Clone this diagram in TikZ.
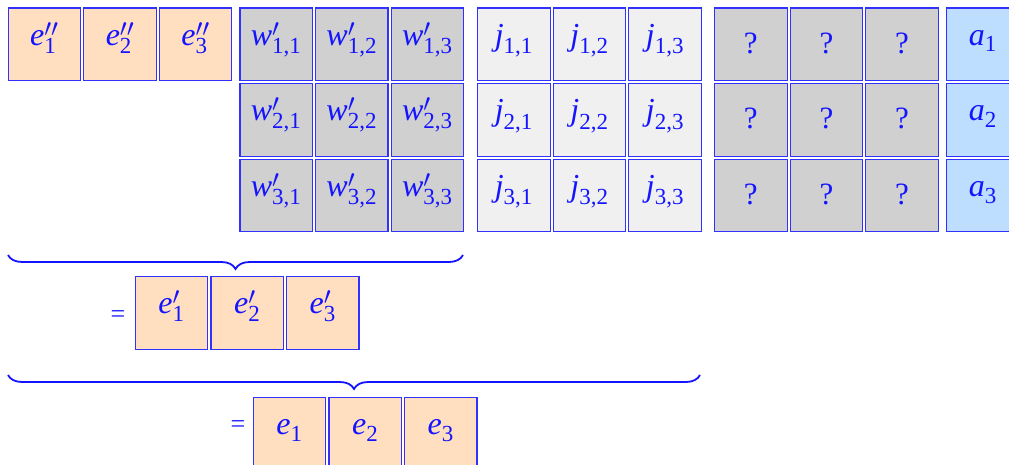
\documentclass[tikz,border=0pt]{standalone}
\usepackage{fontspec}
\setmainfont{Liberation Serif}
\DeclareMathSizes{32}{32}{23}{17}
\usetikzlibrary{decorations.pathreplacing}
\definecolor{peach}{RGB}{255,223,192}
\definecolor{midgray}{RGB}{208,208,208}
\definecolor{lightgray}{RGB}{240,240,240}
\definecolor{lightblue}{RGB}{190,222,255}
\definecolor{txtblue}{RGB}{20,20,255}
\definecolor{edgeblue}{RGB}{50,50,255}
\newcommand{\sbx}[1]{\hbox{\fontsize{23}{25}\selectfont\upshape #1}}
\tikzset{
  cellbox/.style={draw=edgeblue, line width=1.2pt, minimum width=72.5pt, minimum height=72.5pt,
    anchor=north west, inner sep=0pt, text=txtblue, text height=13pt, text depth=11pt,
    font=\fontsize{32}{36}\selectfont},
  ecell/.style={cellbox, fill=peach},
  wcell/.style={cellbox, fill=midgray},
  jcell/.style={cellbox, fill=lightgray},
  acell/.style={cellbox, fill=lightblue},
  qcell/.style={cellbox, fill=midgray, text height=20pt, text depth=2pt,
    font=\fontsize{31}{34}\selectfont},
  eqsign/.style={text=txtblue, font=\fontsize{26}{28}\selectfont, inner sep=0pt},
  bracestyle/.style={draw=txtblue, line width=1.8pt, decorate,
    decoration={brace, mirror, amplitude=14pt}},
}
\begin{document}
\begin{tikzpicture}[x=1pt, y=-1pt]
\path[use as bounding box] (0,0) rectangle (1009,465);
\clip (0,0) rectangle (1009,465);
\def\p{75.6}
% e'' row
\foreach \k in {1,2,3}{
  \node[ecell] (epp\k) at ({7.5+(\k-1)*\p},7.5) {$\textit{e}''_{\sbx{\k}}$};
}
% W matrix, J matrix, ? matrix, a column
\foreach \r in {1,2,3}{
  \foreach \c in {1,2,3}{
    \node[wcell] (w\r\c) at ({239.3+(\c-1)*\p},{7.5+(\r-1)*\p}) {$\textit{w}'_{\sbx{\r,\c}}$};
    \node[jcell] (j\r\c) at ({477+(\c-1)*\p},{7.5+(\r-1)*\p}) {$\textit{j}_{\sbx{\r,\c}}$};
    \node[qcell] (q\r\c) at ({714+(\c-1)*\p},{7.5+(\r-1)*\p}) {?};
  }
  \node[acell] (a\r) at (946,{7.5+(\r-1)*\p}) {$\textit{a}_{\sbx{\r}}$};
}
% brace 1
\coordinate (b1s) at (8,255);
\coordinate (b1e) at (463,255);
\draw[bracestyle] (b1s) -- (b1e);
\node[eqsign] (eq1) at (118,317) {=};
\foreach \k in {1,2,3}{
  \node[ecell] (ep\k) at ({134.7+(\k-1)*\p},276) {$\textit{e}'_{\sbx{\k}}$};
}
% brace 2
\coordinate (b2s) at (8,375);
\coordinate (b2e) at (700,375);
\draw[bracestyle] (b2s) -- (b2e);
\node[eqsign] (eq2) at (238,427) {=};
\foreach \k in {1,2,3}{
  \node[ecell] (e\k) at ({252.7+(\k-1)*\p},396.7) {$\textit{e}_{\sbx{\k}}$};
}
\end{tikzpicture}
\end{document}
